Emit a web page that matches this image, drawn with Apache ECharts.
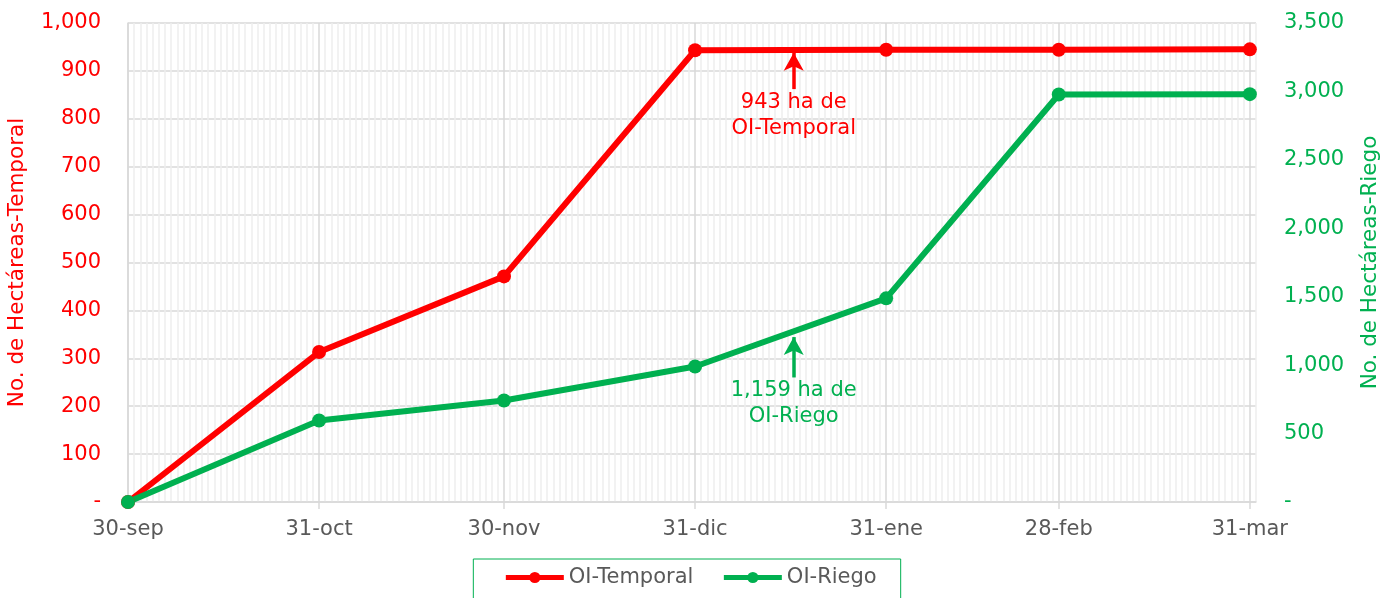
<!DOCTYPE html>
<html>
<head>
<meta charset="utf-8">
<script src="https://cdn.jsdelivr.net/npm/echarts@6/dist/echarts.min.js"></script>
<style>
html, body { margin: 0; padding: 0; background: #fff; }
#chart { width: 1380px; height: 598px; }
</style>
</head>
<body>
<div id="chart"></div>
<script>
// DATOS
var fechas = ['30-sep', '31-oct', '30-nov', '31-dic', '31-ene', '28-feb', '31-mar'];
var temporal = [0, 313, 471, 943, 944, 944, 945];
var riego = [0, 595, 742, 990, 1488, 2978, 2980];
var leftTicks = { min: 0, max: 1000, interval: 100 };
var rightTicks = { min: 0, max: 3500, interval: 500 };
var notaTemporal = ['943 ha de', 'OI-Temporal'];
var notaRiego = ['1,159 ha de', 'OI-Riego'];
var fechaNota = '16-ene';

var ROJO = '#ff0000';
var VERDE = '#00b050';
var FUENTE = 'DejaVu Sans';
var TAM = 21;

// eje diario 30-sep .. 1-abr
var meses = ['ene', 'feb', 'mar', 'abr', 'may', 'jun', 'jul', 'ago', 'sep', 'oct', 'nov', 'dic'];
var dias = [];
var d = new Date(Date.UTC(2022, 8, 30));
var fin = new Date(Date.UTC(2023, 3, 1));
while (d <= fin) {
	dias.push(d.getUTCDate() + '-' + meses[d.getUTCMonth()]);
	d = new Date(d.getTime() + 86400000);
}

function esMayor(idx, val) {
	return fechas.indexOf(dias[idx]) >= 0;
}
function esMenor(idx, val) {
	return fechas.indexOf(dias[idx]) < 0;
}
function pares(vals) {
	return fechas.map(function (f, i) { return [f, vals[i]]; });
}
function miles(v) {
	if (v === 0) return '-';
	return String(v).replace(/\B(?=(\d{3})+(?!\d))/g, ',');
}

var chart = echarts.init(document.getElementById('chart'));
var option = {
	animation: false,
	textStyle: { fontFamily: FUENTE },
	grid: { left: 128, right: 124, top: 23, bottom: 96, outerBoundsMode: 'none', containLabel: false },
	legend: {
		bottom: -30,
		left: 'center',
		data: ['OI-Temporal', 'OI-Riego'],
		itemWidth: 58,
		itemHeight: 14,
		itemGap: 28,
		borderColor: VERDE,
		borderWidth: 1,
		padding: [8, 24, 40, 30],
		lineStyle: { width: 5 },
		textStyle: { color: '#595959', fontSize: TAM, fontFamily: FUENTE }
	},
	xAxis: [{
		type: 'category',
		data: dias,
		boundaryGap: false,
		axisLine: { lineStyle: { color: '#d9d9d9', width: 1.5 } },
		axisTick: { show: true, interval: esMayor, length: 7, lineStyle: { color: '#d9d9d9', width: 1.5 } },
		axisLabel: { interval: esMayor, color: '#595959', fontSize: TAM, margin: 17 },
		splitLine: { show: true, interval: esMayor, lineStyle: { color: '#d9d9d9', width: 1.5 } }
	}, {
		type: 'category',
		data: dias,
		boundaryGap: false,
		position: 'bottom',
		axisLine: { show: false },
		axisTick: { show: false },
		axisLabel: { show: false },
		splitLine: { show: true, interval: esMenor, lineStyle: { color: '#eeeeee', width: 1.5 } }
	}],
	yAxis: [{
		type: 'value',
		min: leftTicks.min,
		max: leftTicks.max,
		interval: leftTicks.interval,
		name: 'No. de Hectáreas-Temporal',
		nameLocation: 'middle',
		nameGap: 100,
		nameTextStyle: { color: ROJO, fontSize: 21.5 },
		axisLine: { show: true, lineStyle: { color: '#d9d9d9', width: 1.5 } },
		axisTick: { show: false },
		axisLabel: { color: ROJO, fontSize: TAM, margin: 27, formatter: miles },
		splitLine: { lineStyle: { color: '#d9d9d9', width: 1.5 } }
	}, {
		type: 'value',
		min: rightTicks.min,
		max: rightTicks.max,
		interval: rightTicks.interval,
		position: 'right',
		name: 'No. de Hectáreas-Riego',
		nameLocation: 'middle',
		nameGap: 103,
		nameTextStyle: { color: VERDE, fontSize: 21.5 },
		axisLine: { show: false },
		axisTick: { show: false },
		axisLabel: { color: VERDE, fontSize: TAM, margin: 28, formatter: miles },
		splitLine: { show: false }
	}],
	series: [{
		name: 'OI-Temporal',
		type: 'line',
		yAxisIndex: 0,
		data: pares(temporal),
		symbol: 'circle',
		symbolSize: 14,
		z: 3,
		itemStyle: { color: ROJO },
		lineStyle: { color: ROJO, width: 6 },
		markLine: {
			silent: true,
			symbol: ['none', 'arrow'],
			symbolSize: [15, 18],
			label: { show: false },
			lineStyle: { color: ROJO, width: 3.5, type: 'solid' },
			data: [[{ coord: [fechaNota, 862] }, { coord: [fechaNota, 938] }]]
		},
		markPoint: {
			silent: true,
			symbolSize: 0,
			data: [{ coord: [fechaNota, 806] }],
			label: {
				show: true, position: 'inside', color: ROJO, fontSize: TAM, lineHeight: 26,
				formatter: notaTemporal.join('\n')
			}
		}
	}, {
		name: 'OI-Riego',
		type: 'line',
		yAxisIndex: 1,
		data: pares(riego),
		symbol: 'circle',
		symbolSize: 14,
		z: 3,
		itemStyle: { color: VERDE },
		lineStyle: { color: VERDE, width: 6 },
		markLine: {
			silent: true,
			symbol: ['none', 'arrow'],
			symbolSize: [15, 18],
			label: { show: false },
			lineStyle: { color: VERDE, width: 3.5, type: 'solid' },
			data: [[{ coord: [fechaNota, 910] }, { coord: [fechaNota, 1205] }]]
		},
		markPoint: {
			silent: true,
			symbolSize: 0,
			data: [{ coord: [fechaNota, 720] }],
			label: {
				show: true, position: 'inside', color: VERDE, fontSize: TAM, lineHeight: 26,
				formatter: notaRiego.join('\n')
			}
		}
	}]
};
chart.setOption(option);
</script>
</body>
</html>
